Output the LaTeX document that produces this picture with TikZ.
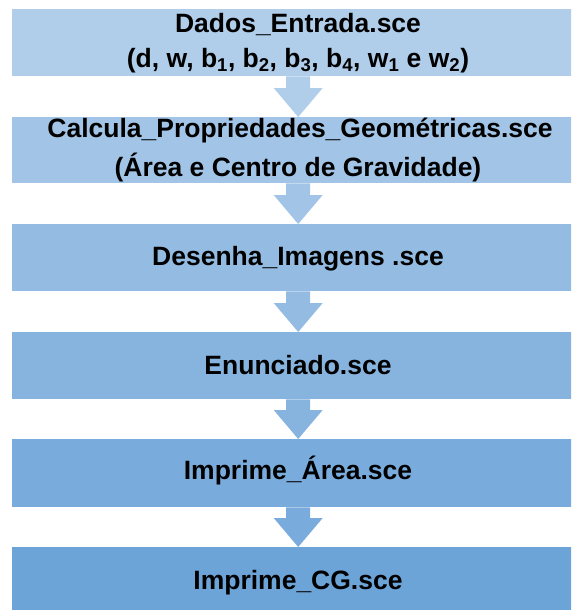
\documentclass[tikz,border=0pt]{standalone}
\usepackage{fontspec}
\setmainfont{Liberation Sans}
\usetikzlibrary{calc}
\definecolor{cA}{RGB}{176,205,234}
\definecolor{cB}{RGB}{162,197,231}
\definecolor{cC}{RGB}{148,188,227}
\definecolor{cD}{RGB}{135,180,223}
\definecolor{cE}{RGB}{121,172,220}
\definecolor{cF}{RGB}{108,164,216}
\tikzset{
  boxnode/.style={rectangle, draw=none, inner sep=0pt, minimum width=572pt, anchor=north west},
  lbl/.style={anchor=base, inner sep=0pt, font=\fontsize{26.5}{30}\selectfont\bfseries},
}
\newcommand{\blockarr}[3]{%
  \fill[#3] ($(#1.south)+(-12,0)$) -- ($(#2.north)+(-12,-29)$) -- ($(#2.north)+(-24.5,-29)$) -- (#2.north) -- ($(#2.north)+(24.5,-29)$) -- ($(#2.north)+(12,-29)$) -- ($(#1.south)+(12,0)$) -- cycle;}
\begin{document}
\begin{tikzpicture}[x=1pt,y=-1pt]
\useasboundingbox (0,0) rectangle (571,610);
\begin{scope}
\clip (0,0) rectangle (571,610);
\node[boxnode, fill=cA, minimum height=67pt] (b1) at (12,9) {};
\node[boxnode, fill=cB, minimum height=66pt] (b2) at (12,117) {};
\node[boxnode, fill=cC, minimum height=67pt] (b3) at (12,224) {};
\node[boxnode, fill=cD, minimum height=67pt] (b4) at (12,332) {};
\node[boxnode, fill=cE, minimum height=68pt] (b5) at (12,439) {};
\node[boxnode, fill=cF, minimum height=70pt] (b6) at (12,547) {};
\blockarr{b1}{b2}{cA}
\blockarr{b2}{b3}{cB}
\blockarr{b3}{b4}{cC}
\blockarr{b4}{b5}{cD}
\blockarr{b5}{b6}{cE}
\end{scope}
\node[lbl] (t1) at (298,33) {Dados\_Entrada.sce};
\node[lbl] (t1b) at (298,67) {(d, w, b\textsubscript{1}, b\textsubscript{2}, b\textsubscript{3}, b\textsubscript{4}, w\textsubscript{1} e w\textsubscript{2})};
\node[lbl] (t2) at (300,137) {Calcula\_Propriedades\_Geométricas.sce};
\node[lbl] (t2b) at (298,176) {(Área e Centro de Gravidade)};
\node[lbl] (t3) at (298,265) {Desenha\_Imagens .sce};
\node[lbl] (t4) at (298,374) {Enunciado.sce};
\node[lbl] (t5) at (298,479) {Imprime\_Área.sce};
\node[lbl] (t6) at (298,589) {Imprime\_CG.sce};
\end{tikzpicture}
\end{document}
